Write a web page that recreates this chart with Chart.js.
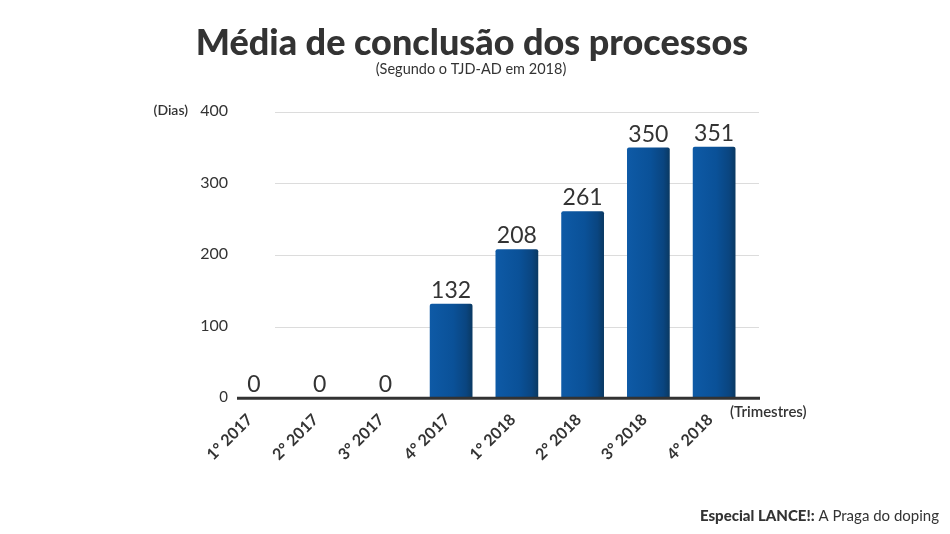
<!DOCTYPE html>
<html>
<head>
<meta charset="utf-8">
<script src="https://cdn.jsdelivr.net/npm/chart.js@4.4.1/dist/chart.umd.min.js"></script>
<style>
  html, body { margin: 0; padding: 0; background: #ffffff; }
  #wrap { width: 950px; height: 534px; position: relative; }
</style>
</head>
<body>
<div id="wrap"><canvas id="c" width="950" height="534"></canvas></div>
<script>
const categories = ['1° 2017', '2° 2017', '3° 2017', '4° 2017', '1° 2018', '2° 2018', '3° 2018', '4° 2018'];
const values = [0, 0, 0, 132, 208, 261, 350, 351];
const yTicks = [0, 100, 200, 300, 400];
const titleText = 'Média de conclusão dos processos';
const subtitleText = '(Segundo o TJD-AD em 2018)';
const yUnit = '(Dias)';
const xUnit = '(Trimestres)';
const footerBold = 'Especial LANCE!:';
const footerRest = ' A Praga do doping';

const FONT = 'Lato, "Open Sans", sans-serif';
const TEXT = '#333333';

function barGradient(ctx) {
  const chart = ctx.chart;
  const xs = chart.scales.x;
  if (!xs || !chart.chartArea || ctx.dataIndex === undefined) return '#0b4f95';
  const cx = xs.getPixelForValue(ctx.dataIndex);
  const w = (xs.width / categories.length) * 0.65;
  if (!isFinite(cx)) return '#0b4f95';
  const g = chart.ctx.createLinearGradient(cx - w / 2, 0, cx + w / 2, 0);
  g.addColorStop(0, '#0e5aa6');
  g.addColorStop(0.55, '#0a5198');
  g.addColorStop(0.85, '#0a4580');
  g.addColorStop(1, '#0a3962');
  return g;
}

const decor = {
  id: 'decor',
  beforeDatasetsDraw(chart) {
    const c = chart.ctx, xs = chart.scales.x, ys = chart.scales.y;
    c.save();
    c.strokeStyle = '#dcdcdc';
    c.lineWidth = 1;
    yTicks.forEach(v => {
      if (v === 0) return;
      const py = Math.round(ys.getPixelForValue(v)) + 0.5;
      c.beginPath();
      c.moveTo(xs.left + 54, py);
      c.lineTo(xs.right + 12, py);
      c.stroke();
    });
    // y tick labels
    c.fillStyle = TEXT;
    c.textAlign = 'right';
    c.textBaseline = 'middle';
    yTicks.forEach(v => {
      c.font = (v === 0 ? '15px ' : '16px ') + FONT;
      c.fillText(String(v), xs.left + 7, ys.getPixelForValue(v) - 1);
    });
    c.restore();
  },
  afterDatasetsDraw(chart) {
    const c = chart.ctx, xs = chart.scales.x, ys = chart.scales.y;
    c.save();
    // axis baseline
    const y0 = ys.getPixelForValue(0);
    c.strokeStyle = '#333333';
    c.lineWidth = 3;
    c.beginPath();
    c.moveTo(xs.left + 16, y0);
    c.lineTo(xs.right + 13, y0);
    c.stroke();
    // value labels
    c.fillStyle = TEXT;
    c.font = '23px ' + FONT;
    c.textAlign = 'center';
    c.textBaseline = 'alphabetic';
    const meta = chart.getDatasetMeta(0);
    meta.data.forEach((el, i) => {
      c.fillText(String(values[i]), el.x, el.y - 6);
    });
    // unit labels
    c.font = '600 14px ' + FONT;
    c.textAlign = 'right';
    c.textBaseline = 'middle';
    c.fillText(yUnit, xs.left - 33, ys.getPixelForValue(400) - 1);
    c.font = '600 15px ' + FONT;
    c.textAlign = 'left';
    c.fillText(xUnit, xs.right - 17, y0 + 14);
    // title + subtitle
    c.textAlign = 'center';
    c.textBaseline = 'alphabetic';
    c.font = '900 36px ' + FONT;
    c.fillText(titleText, 472, 55);
    c.font = '14.5px ' + FONT;
    c.fillText(subtitleText, 471, 74);
    // footer
    c.textAlign = 'left';
    c.font = '900 15px ' + FONT;
    const wb = c.measureText(footerBold).width;
    c.font = '15px ' + FONT;
    const wr = c.measureText(footerRest).width;
    const startX = 939 - wb - wr;
    c.font = '900 15px ' + FONT;
    c.fillText(footerBold, startX, 521);
    c.font = '15px ' + FONT;
    c.fillText(footerRest, startX + wb, 521);
    c.restore();
  }
};

new Chart(document.getElementById('c'), {
  type: 'bar',
  data: {
    labels: categories,
    datasets: [{
      data: values,
      backgroundColor: barGradient,
      borderRadius: { topLeft: 2, topRight: 2 },
      borderSkipped: 'bottom',
      categoryPercentage: 1,
      barPercentage: 0.65
    }]
  },
  options: {
    responsive: false,
    animation: false,
    devicePixelRatio: 1,
    layout: { padding: { left: 0, right: 203, top: 111.7, bottom: 0 } },
    plugins: {
      legend: { display: false },
      tooltip: { enabled: false },
      title: { display: false },
      subtitle: { display: false }
    },
    scales: {
      x: {
        grid: { display: false, drawTicks: false },
        border: { display: false },
        ticks: {
          color: TEXT,
          font: { family: FONT, size: 16, weight: '700' },
          minRotation: 45,
          maxRotation: 45,
          padding: 12,
          labelOffset: -4,
          autoSkip: false
        },
        afterFit(scale) { scale.height = 135.7; }
      },
      y: {
        min: 0,
        max: 400,
        grid: { display: false, drawTicks: false },
        border: { display: false },
        afterBuildTicks(scale) { scale.ticks = yTicks.map(v => ({ value: v })); },
        ticks: { display: false },
        afterFit(scale) { scale.width = 221; }
      }
    }
  },
  plugins: [decor]
});
</script>
</body>
</html>
